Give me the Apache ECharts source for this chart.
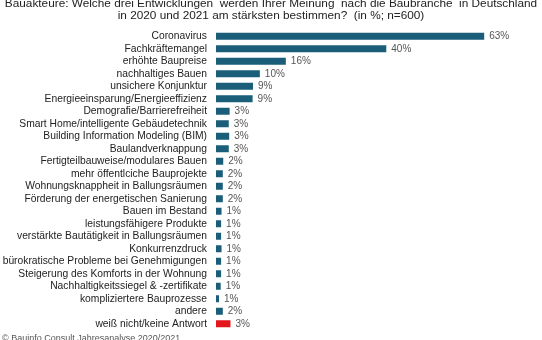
<!DOCTYPE html>
<html><head><meta charset="utf-8">
<script src="https://cdn.jsdelivr.net/npm/echarts@6/dist/echarts.min.js"></script>
<style>html,body{margin:0;padding:0;background:#fff}#c{width:542px;height:340px}</style>
</head><body><div id="c"></div>
<script>
const categories = ["Coronavirus","Fachkräftemangel","erhöhte Baupreise","nachhaltiges Bauen","unsichere Konjunktur","Energieeinsparung/Energieeffizienz","Demografie/Barrierefreiheit","Smart Home/intelligente Gebäudetechnik","Building Information Modeling (BIM)","Baulandverknappung","Fertigteilbauweise/modulares Bauen","mehr öffentlciche Bauprojekte","Wohnungsknappheit in Ballungsräumen","Förderung der energetischen Sanierung","Bauen im Bestand","leistungsfähigere Produkte","verstärkte Bautätigkeit in Ballungsräumen","Konkurrenzdruck","bürokratische Probleme bei Genehmigungen","Steigerung des Komforts in der Wohnung","Nachhaltigkeitssiegel & -zertifikate","kompliziertere Bauprozesse","andere","weiß nicht/keine Antwort"];
const values = [63,40,16.4,10.3,8.7,8.6,3.2,3.0,3.1,3.0,1.7,1.6,1.6,1.6,1.3,1.2,1.2,1.3,1.2,1.2,1.1,0.7,1.6,3.4];
const labels = ["63%","40%","16%","10%","9%","9%","3%","3%","3%","3%","2%","2%","2%","2%","1%","1%","1%","1%","1%","1%","1%","1%","2%","3%"];
const highlight = "weiß nicht/keine Antwort";
const titleLines = ["Bauakteure: Welche drei Entwicklungen  werden Ihrer Meinung  nach die Baubranche  in Deutschland","in 2020 und 2021 am stärksten bestimmen?  (in %; n=600)"];
const footer = "© Bauinfo Consult Jahresanalyse 2020/2021";

const chart = echarts.init(document.getElementById('c'), null, {renderer:'canvas'});
chart.setOption({
  animation:false,
  backgroundColor:'#fff',
  graphic:[
    {type:'text', left:'center', top:-2, style:{text:titleLines[0], font:'11.8px "Liberation Sans", Arial', fill:'#222'}},
    {type:'text', left:'center', top:10, style:{text:titleLines[1], font:'11.8px "Liberation Sans", Arial', fill:'#222'}},
    {type:'text', left:2, top:334, style:{text:footer, font:'9px "Liberation Sans", Arial', fill:'#555'}}
  ],
  grid:{left:216, right:28, top:30, bottom:10, containLabel:false, outerBoundsMode:'none'},
  xAxis:{type:'value', min:0, max:70, show:false},
  yAxis:{type:'category', inverse:true, data:categories,
    axisLine:{show:false}, axisTick:{show:false},
    axisLabel:{margin:9, color:'#222', fontSize:10.3, fontFamily:'"Liberation Sans", Arial', interval:0}},
  series:[{type:'bar', barWidth:7,
    data: values.map((v,i)=>({value:v, itemStyle:{color: categories[i]===highlight ? '#e3161c' : '#1b5e7a'}})),
    label:{show:true, position:'right', distance:5, color:'#555', fontSize:10, fontFamily:'"Liberation Sans", Arial',
      formatter:(p)=>labels[p.dataIndex]}
  }]
});
</script></body></html>
